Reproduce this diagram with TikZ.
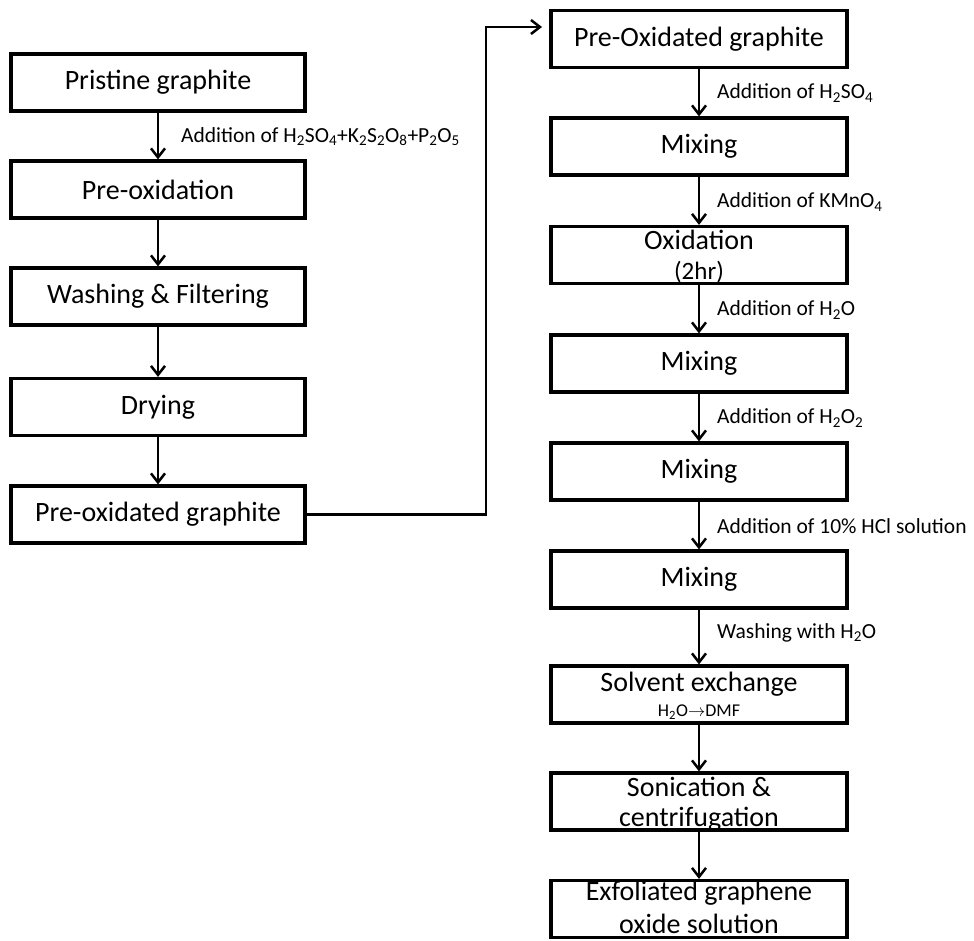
\documentclass[tikz,border=0pt]{standalone}
\usepackage{fontspec}
\setmainfont{Carlito}
\usetikzlibrary{arrows.meta}
\newcommand\boxfont{\fontsize{28}{32}\selectfont}
\newcommand\lblfont{\fontsize{21.5}{25}\selectfont}
\newcommand\smallfont{\fontsize{18}{21}\selectfont}
\newcommand\midfont{\fontsize{25}{29}\selectfont}
\newcommand\chsub[1]{\textsubscript{#1}}
\begin{document}
\begin{tikzpicture}[x=1pt,y=-1pt,
  stepbox/.style={draw, line width=3.2pt, minimum width=294pt, minimum height=57pt, inner sep=0pt, font=\boxfont},
  rbox/.style={stepbox, minimum width=296pt},
  txt/.style={inner sep=0pt},
  lbl/.style={anchor=west, inner sep=0pt, font=\lblfont},
  arr/.style={line width=2.5pt, -{Straight Barb[length=9pt,width=14pt,line width=2.5pt]}}]
\useasboundingbox (0,0) rectangle (974,940);
% left column
\node[stepbox] (l1) at (158,82.5) {Pristine graphite};
\node[stepbox] (l2) at (158,189.5) {Pre-oxidation};
\node[stepbox] (l3) at (158,296.5) {Washing \& Filtering};
\node[stepbox] (l4) at (158,407) {Drying};
\node[stepbox] (l5) at (158,514.5) {Pre-oxidated graphite};
\draw[arr] (l1.south) -- (l2.north);
\draw[arr] (l2.south) -- (l3.north);
\draw[arr] (l3.south) -- (l4.north);
\draw[arr] (l4.south) -- (l5.north);
\node[lbl] (a0) at (181,137) {Addition of H\chsub{2}SO\chsub{4}+K\chsub{2}S\chsub{2}O\chsub{8}+P\chsub{2}O\chsub{5}};
% right column
\node[rbox] (r1) at (699,39) {Pre-Oxidated graphite};
\node[rbox] (r2) at (699,146.5) {Mixing};
\node[rbox] (r3) at (699,255) {};
\node[txt, font=\boxfont] (t3a) at (699,240) {Oxidation};
\node[txt, font=\midfont] (t3b) at (699,272) {(2hr)};
\node[rbox] (r4) at (699,363.5) {Mixing};
\node[rbox] (r5) at (699,471.5) {Mixing};
\node[rbox] (r6) at (699,579.5) {Mixing};
\node[rbox] (r7) at (699,694.5) {};
\node[txt, font=\boxfont] (t7a) at (699,684) {Solvent exchange};
\node[txt, font=\smallfont] (t7b) at (699,712) {H\chsub{2}O$\rightarrow$DMF};
\node[rbox] (r8) at (699,801.5) {};
\node[txt, font=\boxfont] (t8a) at (699,787) {Sonication \&};
\node[txt, font=\boxfont] (t8b) at (699,819) {centrifugation};
\node[rbox] (r9) at (699,909) {};
\node[txt, font=\boxfont] (t9a) at (699,893) {Exfoliated graphene};
\node[txt, font=\boxfont] (t9b) at (699,924) {oxide solution};
\draw[arr] (r1.south) -- (r2.north);
\draw[arr] (r2.south) -- (r3.north);
\draw[arr] (r3.south) -- (r4.north);
\draw[arr] (r4.south) -- (r5.north);
\draw[arr] (r5.south) -- (r6.north);
\draw[arr] (r6.south) -- (r7.north);
\draw[arr] (r7.south) -- (r8.north);
\draw[arr] (r8.south) -- (r9.north);
\node[lbl] (b1) at (717,93) {Addition of H\chsub{2}SO\chsub{4}};
\node[lbl] (b2) at (717,202) {Addition of KMnO\chsub{4}};
\node[lbl] (b3) at (717,310) {Addition of H\chsub{2}O};
\node[lbl] (b4) at (717,418) {Addition of H\chsub{2}O\chsub{2}};
\node[lbl] (b5) at (717,526) {Addition of 10\% HCl solution};
\node[lbl] (b6) at (717,633) {Washing with H\chsub{2}O};
% connector between columns
\coordinate (cturn) at (486,27);
\coordinate (cend) at (542,27);
\draw[arr] (l5.east) -| (cturn) -- (cend);
\end{tikzpicture}
\end{document}
